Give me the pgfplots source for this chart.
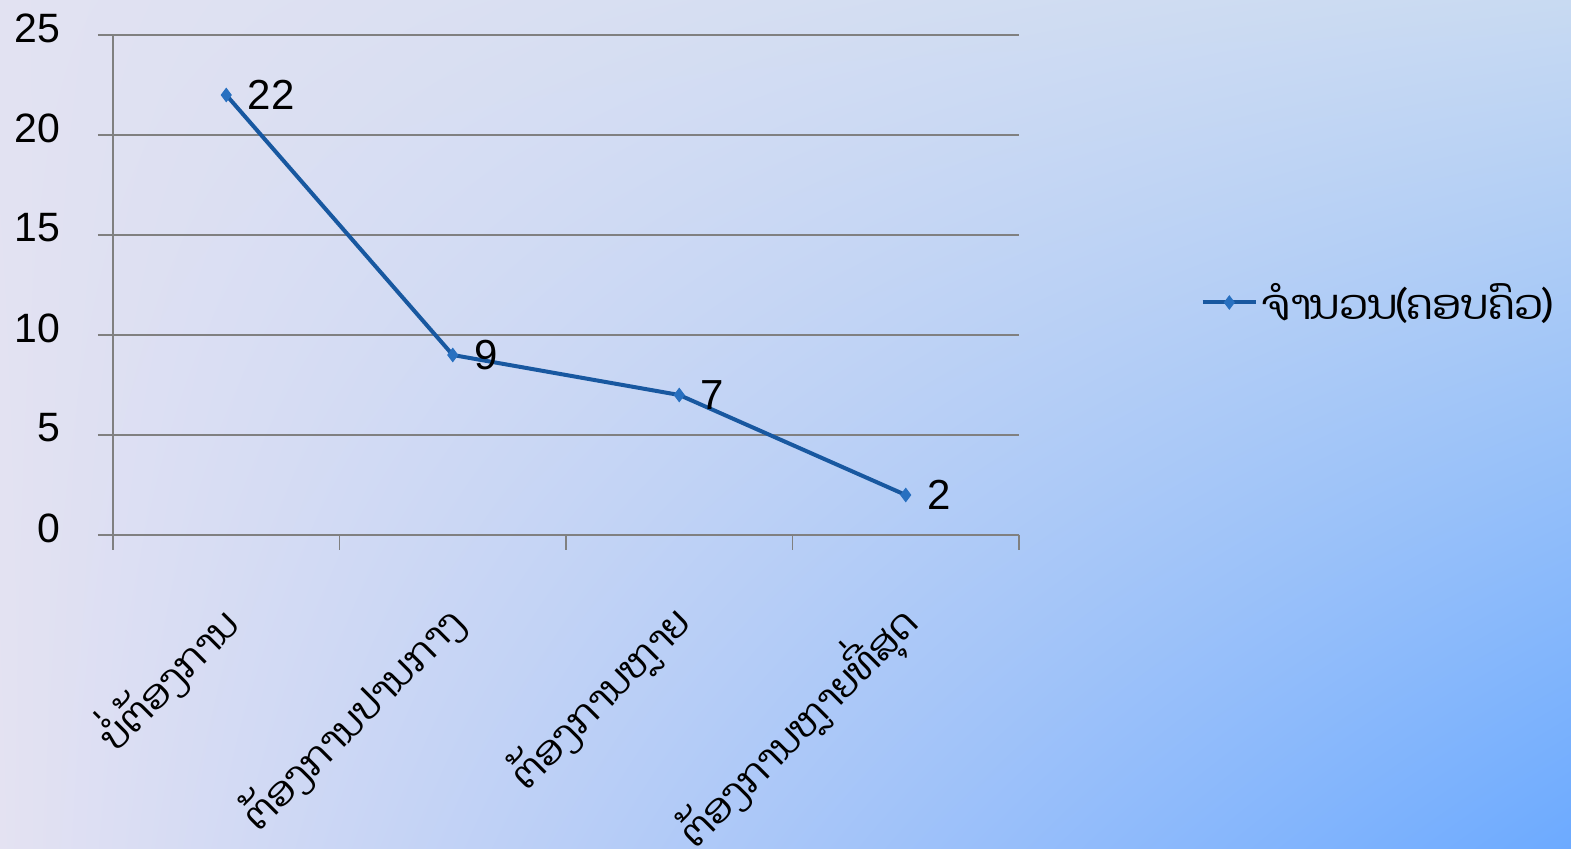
\documentclass[border=0pt]{standalone}
\usepackage{pgfplots}
\pgfplotsset{compat=1.18}
\usetikzlibrary{shadings}
\usepackage{fontspec}
\setmainfont{Liberation Sans}
\newfontfamily\laofont[Script=Lao]{Dhyana}
\definecolor{bgUL}{RGB}{226,226,242}
\definecolor{bgUR}{RGB}{200,218,242}
\definecolor{bgLL}{RGB}{228,226,242}
\definecolor{bgLR}{RGB}{108,170,255}
\definecolor{lineblue}{RGB}{24,88,160}
\definecolor{markblue}{RGB}{40,112,192}
\definecolor{gridgray}{RGB}{128,128,128}
\begin{document}
\begin{tikzpicture}
\shade[upper left=bgUL, upper right=bgUR, lower left=bgLL, lower right=bgLR] (0pt,0pt) rectangle (785.5pt,424.5pt);
\useasboundingbox (0pt,0pt) rectangle (785.5pt,424.5pt);
\begin{axis}[
  at={(56.5pt,157pt)}, anchor=south west,
  scale only axis, width=453pt, height=250pt,
  xmin=-0.5, xmax=3.5, ymin=0, ymax=25,
  ytick={0,5,10,15,20,25},
  xtick={-0.5,0.5,1.5,2.5,3.5},
  x tick label as interval,
  xticklabels={{\laofont ບໍ່ຕ້ອງການ},{\laofont ຕ້ອງການປານກາງ},{\laofont ຕ້ອງການຫຼາຍ},{\laofont ຕ້ອງການຫຼາຍທີ່ສຸດ}},
  axis x line*=bottom, axis y line*=left,
  axis line style={gridgray, line width=0.8pt},
  tick style={gridgray, line width=0.8pt},
  tick align=outside, major tick length=7.5pt,
  ymajorgrids, major grid style={gridgray, line width=0.8pt},
  /pgf/number format/assume math mode=true,
  yticklabel style={font=\fontsize{20.5}{20.5}\selectfont, xshift=-15.5pt, yshift=3.5pt},
  xticklabel style={font=\fontsize{19.5}{19.5}\selectfont, xshift=4pt, yshift=-30pt, rotate=45, anchor=east},
  clip=false,
  legend style={at={(1.2,0.465)}, anchor=west, draw=none, fill=none, font=\laofont\fontsize{20.8}{20.8}\selectfont, inner sep=0pt},
  legend image code/.code={\draw[mark repeat=2,mark phase=2] plot coordinates {(0cm,0cm) (0.47cm,0cm) (0.94cm,0cm)};},
]
\addplot[lineblue, line width=2pt, mark=diamond*, mark size=3.3pt, mark options={fill=markblue, draw=markblue, line width=0.5pt},
  nodes near coords, every node near coord/.append style={font=\fontsize{21}{21}\selectfont, text=black, anchor=west, inner sep=0pt, xshift=10.5pt}]
  coordinates {(0,22) (1,9) (2,7) (3,2)};
\addlegendentry{ຈຳນວນ(ຄອບຄົວ)}
\end{axis}
\end{tikzpicture}
\end{document}
